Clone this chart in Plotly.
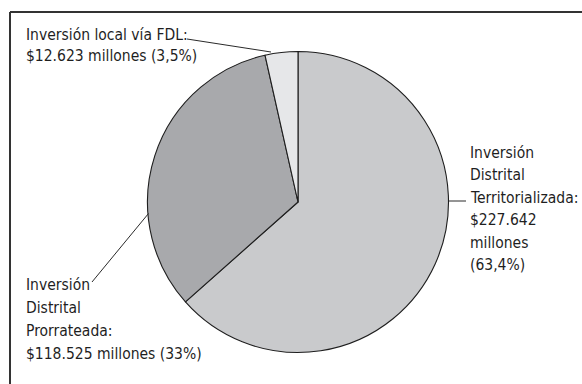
import plotly.graph_objects as go

# Distribución de la inversión (millones de pesos)
categorias = [
    "Inversión Distrital Territorializada",
    "Inversión Distrital Prorrateada",
    "Inversión local vía FDL",
]
valores = [227642, 118525, 12623]
etiquetas = [
    ["Inversión", "Distrital", "Territorializada:", "$227.642", "millones", "(63,4%)"],
    ["Inversión", "Distrital", "Prorrateada:", "$118.525 millones (33%)"],
    ["Inversión local vía FDL:", "$12.623 millones (3,5%)"],
]
colores = ["#c9cacc", "#a8a9ac", "#e6e7e9"]

W, H = 582, 384
FONT = "DejaVu Sans Condensed, DejaVu Sans, sans-serif"


def px(x):
    return x / W


def py(y):
    return 1 - y / H


fig = go.Figure(
    go.Pie(
        labels=categorias,
        values=valores,
        sort=False,
        direction="clockwise",
        rotation=0,
        marker=dict(colors=colores, line=dict(color="#1e1e1e", width=1.1)),
        textinfo="none",
        hoverinfo="label+value+percent",
        showlegend=False,
        domain=dict(x=[px(147.5), px(448.5)], y=[py(352.5), py(51.5)]),
    )
)

# leader lines from labels to the pie
lineas = [
    ((449, 201), (466, 201)),
    ((92, 282), (148.5, 213.5)),
    ((187, 39), (271, 52)),
]
shapes = []
for (x0, y0), (x1, y1) in lineas:
    shapes.append(dict(type="line", xref="paper", yref="paper",
                       x0=px(x0), y0=py(y0), x1=px(x1), y1=py(y1),
                       line=dict(color="#2a2a2a", width=1)))

# frame
shapes.append(dict(type="line", xref="paper", yref="paper",
                   x0=px(10), y0=py(12), x1=px(600), y1=py(12),
                   line=dict(color="#333333", width=2)))
shapes.append(dict(type="line", xref="paper", yref="paper",
                   x0=px(10), y0=py(12), x1=px(10), y1=py(400),
                   line=dict(color="#333333", width=2)))

# label blocks: left edge, first line centre, line step (px)
bloques = [(468, 153, 22.4), (24, 285, 23), (24, 35.5, 21)]
annotations = []
for lineas_txt, (x, y0, paso) in zip(etiquetas, bloques):
    for i, texto in enumerate(lineas_txt):
        annotations.append(dict(
            text=texto, xref="paper", yref="paper", x=px(x), y=py(y0 + i * paso),
            xanchor="left", yanchor="middle", align="left", showarrow=False,
            font=dict(family=FONT, size=15.5, color="#1f1f1f"),
        ))

fig.update_layout(
    width=W, height=H,
    margin=dict(l=0, r=0, t=0, b=0),
    paper_bgcolor="white", plot_bgcolor="white",
    shapes=shapes, annotations=annotations,
)

fig.write_html("out.html")
